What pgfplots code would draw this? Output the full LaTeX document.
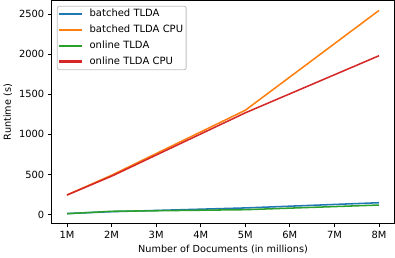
\documentclass[border=0pt]{standalone}
\usepackage{pgfplots}
\pgfplotsset{compat=1.18}
\usepackage{fontspec}
\setmainfont{DejaVu Sans}
\definecolor{tabblue}{HTML}{1F77B4}
\definecolor{taborange}{HTML}{FF7F0E}
\definecolor{tabgreen}{HTML}{2CA02C}
\definecolor{tabred}{HTML}{D62728}
\begin{document}
\begin{tikzpicture}
\begin{axis}[
  scale only axis,
  width=335bp, height=218bp,
  xmin=0.65, xmax=8.35,
  ymin=-115, ymax=2670,
  xtick={1,2,3,4,5,6,7,8},
  xticklabels={1M,2M,3M,4M,5M,6M,7M,8M},
  ytick={0,500,1000,1500,2000,2500},
  /pgf/number format/assume math mode=true,
  yticklabel style={/pgf/number format/1000 sep={}},
  tick label style={font=\fontsize{9.7}{11}\selectfont},
  label style={font=\fontsize{9.5}{11}\selectfont},
  xlabel={Number of Documents (in millions)},
  ylabel={Runtime (s)},
  tick align=outside,
  tick pos=left,
  major tick length=3.5bp,
  axis line style={line width=0.8bp},
  every tick/.style={black, line width=0.8bp},
  legend style={at={(0.016,0.976)}, anchor=north west, draw=black!25, line width=0.8bp, rounded corners=2pt,
     font=\fontsize{9.8}{11}\selectfont, inner sep=2bp, row sep=4bp, column sep=6bp,
     nodes={font=\fontsize{9.8}{11}\selectfont, inner sep=1bp, text height=7.5bp, text depth=2bp}},
  legend cell align=left,
  legend image code/.code={\fill[#1, sharp corners] (0bp,-0.5bp) rectangle (21bp,0.5bp);},
]
\addplot[color=tabblue, line width=1.5bp] coordinates {(1,12) (2,35) (5,82) (8,147)};
\addlegendentry{batched TLDA}
\addplot[color=taborange, line width=1.5bp] coordinates {(1,243) (2,490) (5,1300) (8,2545)};
\addlegendentry{batched TLDA CPU}
\addplot[color=tabgreen, line width=1.5bp] coordinates {(1,10) (2,40) (5,60) (8,118)};
\addlegendentry{online TLDA}
\addplot[color=tabred, line width=1.5bp] coordinates {(1,243) (2,478) (5,1268) (8,1980)};
\addlegendentry{online TLDA CPU}
\end{axis}
\end{tikzpicture}
\end{document}
